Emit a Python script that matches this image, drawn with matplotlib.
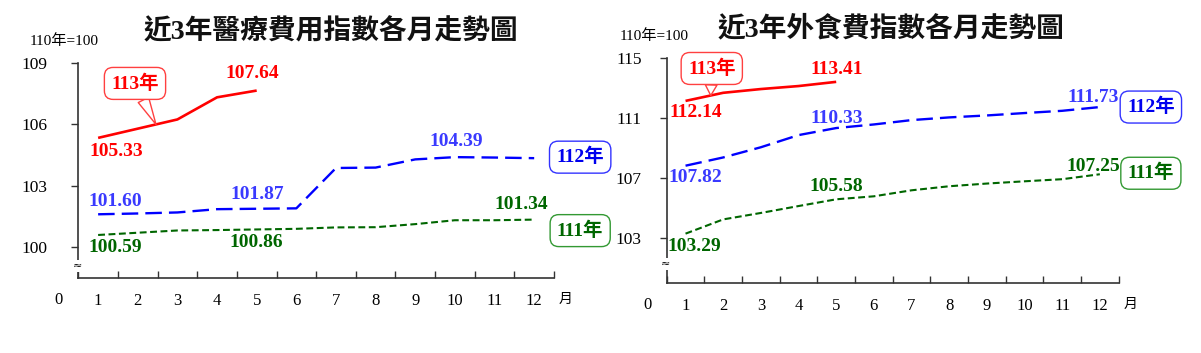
import numpy as np
import matplotlib
matplotlib.use('Agg')
import matplotlib.pyplot as plt

# Times-like digits, CJK glyphs fall back to Noto Sans CJK
plt.rcParams['font.family'] = ['Liberation Serif', 'Noto Sans CJK TC']

months = np.arange(1, 13)
month_labels = [str(m) for m in months]

# 醫療費用指數 (110年=100)
med_111 = [100.59, 100.70, 100.81, 100.83, 100.86, 100.89, 100.96, 100.97, 101.12, 101.31, 101.31, 101.34]
med_112 = [101.60, 101.64, 101.69, 101.85, 101.87, 101.89, 103.86, 103.88, 104.28, 104.39, 104.37, 104.34]
med_113 = [105.33, 105.78, 106.23, 107.31, 107.64]

# 外食費指數 (110年=100)
food_111 = [103.29, 104.24, 104.67, 105.13, 105.58, 105.78, 106.18, 106.45, 106.63, 106.78, 106.92, 107.25]
food_112 = [107.82, 108.37, 109.05, 109.86, 110.33, 110.57, 110.86, 111.04, 111.17, 111.33, 111.48, 111.73]
food_113 = [112.14, 112.68, 112.93, 113.13, 113.41]

RED = '#FF0000'
BLUE_LINE = '#0000FF'
BLUE_TEXT = '#3A3AFF'
BLUE_BOX = '#0000EE'
GREEN = '#006600'
AXIS = '#333333'

W, H = 1201, 353
fig = plt.figure(figsize=(W / 100, H / 100), dpi=100)


def px_axes(x0, x1, ytop, ybot):
    return fig.add_axes([x0 / W, 1 - ybot / H, (x1 - x0) / W, (ybot - ytop) / H])


def value_label(ax, vals, i, dx, dy, color):
    ax.annotate(f'{vals[i]:.2f}', xy=(months[i], vals[i]), xytext=(dx, dy),
                textcoords='offset pixels', ha='center', va='center',
                fontsize=14, fontweight='bold', color=color)


def year_box(ax, text, vals, dx, dy, color, edge):
    ax.annotate(text, xy=(months[len(vals) - 1], vals[-1]), xytext=(dx, dy),
                textcoords='offset pixels', ha='center', va='center',
                fontsize=14, fontweight='bold', color=color, annotation_clip=False,
                bbox=dict(boxstyle='round,pad=0.35,rounding_size=0.45', fc='white', ec=edge, lw=1))


def panel(ax, s111, s112, s113, ylim, yticks, ypad, brk_dy):
    ax.plot(months, s111, color=GREEN, lw=1.5, dashes=(3.3, 1.7))
    ax.plot(months, s112, color=BLUE_LINE, lw=1.7, dashes=(7, 3))
    ax.plot(months[:len(s113)], s113, color=RED, lw=1.9, solid_capstyle='butt')

    ax.set_xlim(0.5, 12.5)
    ax.set_ylim(*ylim)
    ax.set_yticks(yticks)
    ax.set_xticks(np.arange(0.5, 13, 1))
    ax.set_xticklabels([])
    ax.set_xticks(months, minor=True)
    ax.set_xticklabels(month_labels, minor=True)
    ax.tick_params(axis='x', which='major', direction='in', length=5, width=1, color=AXIS)
    ax.tick_params(axis='x', which='minor', length=0, pad=11, labelsize=12)
    ax.tick_params(axis='y', direction='out', length=5, width=1, color=AXIS, pad=ypad, labelsize=12.5)
    for side in ['top', 'right']:
        ax.spines[side].set_visible(False)
    for side in ['left', 'bottom']:
        ax.spines[side].set_color(AXIS)
        ax.spines[side].set_linewidth(1.2)

    # "0" at origin, 月 unit, axis break mark
    ax.annotate('0', xy=(0, 0), xycoords=('data', 'axes fraction'), xytext=(0, -22),
                textcoords='offset pixels', ha='center', va='center', fontsize=12,
                annotation_clip=False)
    ax.annotate('月', xy=(1, 0), xycoords='axes fraction', xytext=(12, -21),
                textcoords='offset pixels', ha='center', va='center', fontsize=10,
                annotation_clip=False)
    ax.annotate('≈', xy=(0, 0), xycoords='axes fraction', xytext=(-1, brk_dy),
                textcoords='offset pixels', ha='center', va='center', fontsize=8,
                family='DejaVu Sans',
                bbox=dict(boxstyle='square,pad=0.05', fc='white', ec='none'))


def callout(ax, vals, xm, dx, dy):
    ax.annotate('113年', xy=(xm, np.interp(xm, months[:len(vals)], vals)), xytext=(dx, dy),
                textcoords='offset pixels', ha='center', va='center',
                fontsize=14, fontweight='bold', color=RED,
                bbox=dict(boxstyle='round,pad=0.35,rounding_size=0.45', fc='white', ec='#FF4040', lw=1),
                arrowprops=dict(arrowstyle='wedge,tail_width=0.6', fc='white', ec='#FF4040',
                                lw=1, shrinkA=0, shrinkB=0))


# left panel: 醫療費用
ax1 = px_axes(78.3, 554, 62.7, 278)
panel(ax1, med_111, med_112, med_113, (98.49, 109), [100, 103, 106, 109], 17, 12)
value_label(ax1, med_113, 0, 18, -14, RED)
value_label(ax1, med_113, 4, -4, 17, RED)
value_label(ax1, med_112, 0, 17, 13, BLUE_TEXT)
value_label(ax1, med_112, 4, 1, 14, BLUE_TEXT)
value_label(ax1, med_112, 9, 1, 16, BLUE_TEXT)
value_label(ax1, med_111, 0, 17, -13, GREEN)
value_label(ax1, med_111, 4, 0, -13, GREEN)
value_label(ax1, med_111, 11, -13, 15, GREEN)
year_box(ax1, '112年', med_112, 46, 1, BLUE_BOX, '#3333FF')
year_box(ax1, '111年', med_111, 46, -11, GREEN, '#339933')
callout(ax1, med_113, 2.46, -21, 41)

# right panel: 外食費
ax2 = px_axes(666.7, 1118.7, 58, 283)
panel(ax2, food_111, food_112, food_113, (100, 115), [103, 107, 111, 115], 13, 19)
value_label(ax2, food_113, 0, 10, -12, RED)
value_label(ax2, food_113, 4, 0, 12, RED)
value_label(ax2, food_112, 0, 10, -12, BLUE_TEXT)
value_label(ax2, food_112, 4, 0, 10, BLUE_TEXT)
value_label(ax2, food_112, 11, -7, 10, BLUE_TEXT)
value_label(ax2, food_111, 0, 9, -13, GREEN)
value_label(ax2, food_111, 4, 0, 13, GREEN)
value_label(ax2, food_111, 11, -7, 8, GREEN)
year_box(ax2, '112年', food_112, 51, 0, BLUE_BOX, '#3333FF')
year_box(ax2, '111年', food_111, 51, 1, GREEN, '#339933')
callout(ax2, food_113, 1.67, 1, 27)

# titles and base-year notes
fig.text(331 / W, 1 - 32 / H, '近3年醫療費用指數各月走勢圖', ha='center', va='center',
         fontsize=20, fontweight='bold', color='#111111')
fig.text(891 / W, 1 - 29 / H, '近3年外食費指數各月走勢圖', ha='center', va='center',
         fontsize=20, fontweight='bold', color='#111111')
fig.text(30 / W, 1 - 41 / H, '110年=100', ha='left', va='center', fontsize=11)
fig.text(620 / W, 1 - 36 / H, '110年=100', ha='left', va='center', fontsize=11)

fig.savefig('out.png', dpi=100)
plt.close(fig)
